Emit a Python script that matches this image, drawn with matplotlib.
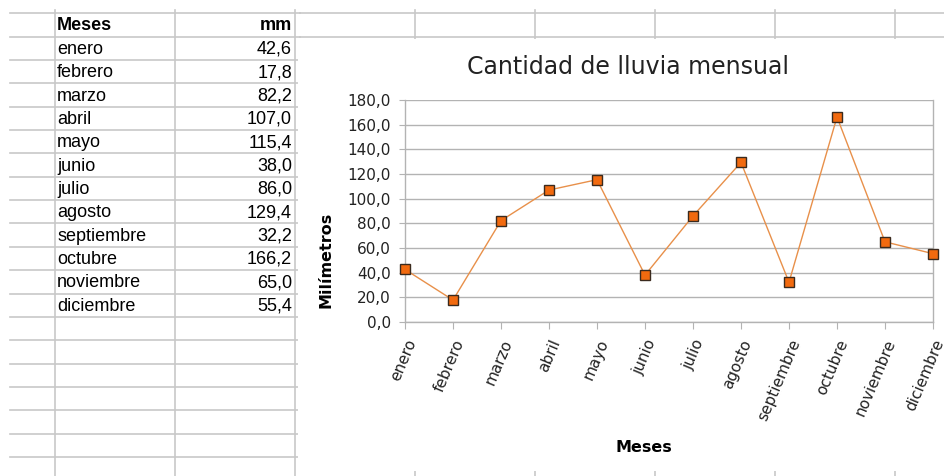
import matplotlib.pyplot as plt
from matplotlib.patches import Rectangle
from matplotlib.ticker import FuncFormatter, MultipleLocator

meses = ["enero", "febrero", "marzo", "abril", "mayo", "junio", "julio",
         "agosto", "septiembre", "octubre", "noviembre", "diciembre"]
mm = [42.6, 17.8, 82.2, 107.0, 115.4, 38.0, 86.0, 129.4, 32.2, 166.2, 65.0, 55.4]

W, H = 945, 476
fig = plt.figure(figsize=(W / 100, H / 100), dpi=100)

# spreadsheet layer, pixel coordinates
bg = fig.add_axes([0, 0, 1, 1])
bg.set_xlim(0, W)
bg.set_ylim(H, 0)
bg.axis('off')

grid_c = '#c8c8c8'
y0, row_h = 13.3, 23.35
rows = [y0 + k * row_h for k in range(20)]
for y in rows:
    bg.plot([10, 300], [y, y], color=grid_c, lw=1.2)
for y in rows[:2]:
    bg.plot([300, W], [y, y], color=grid_c, lw=1.2)
for x in [55, 175, 295, 415, 535, 655, 775, 895]:
    bg.plot([x, x], [10, H], color=grid_c, lw=1.2)

# chart area hides the sheet grid
bg.add_patch(Rectangle((298, 38.5), W - 298, 432, fc='white', ec='none', zorder=3))

tfont = dict(family='Liberation Sans', fontsize=13, va='center')
bg.text(57, y0 + 0.5 * row_h + 1, "Meses", fontweight='bold', **tfont)
bg.text(292, y0 + 0.5 * row_h + 1, "mm", fontweight='bold', ha='right', **tfont)
for i, (m, v) in enumerate(zip(meses, mm)):
    yc = y0 + (i + 1.5) * row_h + 1
    bg.text(57, yc, m, **tfont)
    bg.text(292, yc, f"{v:.1f}".replace('.', ','), ha='right', **tfont)

# chart titles
bg.text(628, 67, "Cantidad de lluvia mensual", ha='center', va='center',
        fontsize=17, color='#222222', zorder=4)
bg.text(326, 260, "Milímetros", rotation=90, ha='center', va='center',
        fontsize=11.5, fontweight='bold', zorder=4)
bg.text(644, 447, "Meses", ha='center', va='center',
        fontsize=11.5, fontweight='bold', zorder=4)

# chart
left, right, top, bottom = 405, 933, 100, 322
ax = fig.add_axes([left / W, 1 - bottom / H, (right - left) / W, (bottom - top) / H])
ax.set_facecolor('none')
ax.plot(range(len(mm)), mm, color='#e8904a', lw=1, marker='s', ms=6.5,
        mfc='#f26a0f', mec='#3a2a1e', mew=1, clip_on=False, zorder=5)
ax.set_xlim(0, len(mm) - 1)
ax.set_ylim(0, 180)
ax.yaxis.set_major_locator(MultipleLocator(20))
ax.yaxis.set_major_formatter(FuncFormatter(lambda v, p: f"{v:.1f}".replace('.', ',')))
ax.grid(axis='y', color='#b3b3b3', lw=1)
ax.set_axisbelow(True)
for s in ax.spines.values():
    s.set_color('#b3b3b3')
    s.set_linewidth(1)
ax.spines['top'].set_visible(False)

ax.set_xticks(range(len(meses)))
ax.set_xticklabels(meses, rotation=67, ha='right', rotation_mode='anchor',
                   fontsize=11, color='#222222')
ax.tick_params(axis='x', direction='out', length=5, color='#b3b3b3', pad=6)
ax.tick_params(axis='y', direction='out', length=4, color='#b3b3b3', pad=6,
               labelsize=11, labelcolor='#222222')

fig.savefig('out.png', dpi=100)
